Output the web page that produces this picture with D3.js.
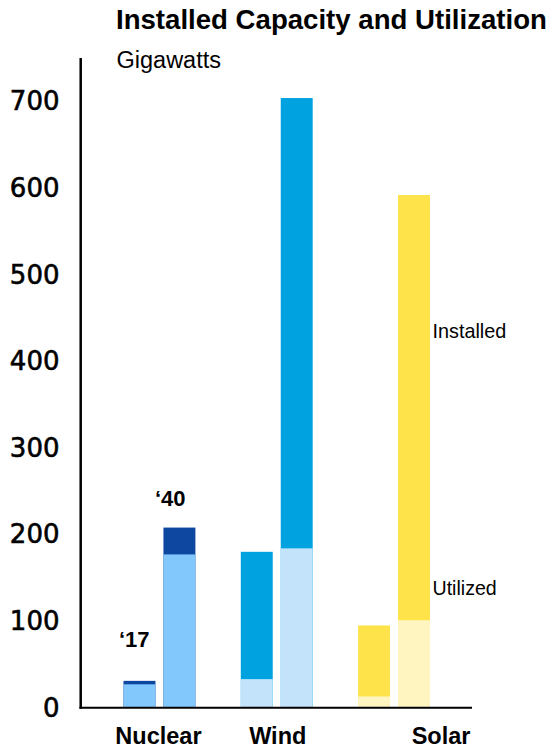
<!DOCTYPE html>
<html><head><meta charset="utf-8">
<script src="https://cdn.jsdelivr.net/npm/d3@7"></script>
<style>body{margin:0;background:#fff}svg{display:block}</style>
</head><body>
<svg id="c" width="557" height="747"></svg>
<script>
const categories = ["Nuclear", "Wind", "Solar"];
const years = ["'17", "'40"];
const yearLabels = ["\u201817", "\u201840"];
const utilized = {Nuclear: [27, 177], Wind: [33, 184], Solar: [13, 101]};
const installed = {Nuclear: [31, 208], Wind: [180, 704], Solar: [95, 592]};
const yTicks = [0, 100, 200, 300, 400, 500, 600, 700];
const colorsInstalled = {Nuclear: "#0e47a0", Wind: "#00a3e0", Solar: "#ffe34a"};
const colorsUtilized = {Nuclear: "#82c8fd", Wind: "#c2e3fa", Solar: "#fff5c0"};

const ARIAL = "Liberation Sans, Arial, sans-serif";
const svg = d3.select("#c");
const y = d3.scaleLinear().domain([0, 700]).range([707.7, 101.5]);
const x0 = d3.scaleBand().domain(categories).range([123.5, 430]).paddingInner(0.387).paddingOuter(0);
const x1 = d3.scaleBand().domain(years).range([0, x0.bandwidth()]).paddingInner(0.2);

// title
svg.append("text").attr("x", 116).attr("y", 29).text("Installed Capacity and Utilization")
  .attr("font-family", ARIAL).attr("font-weight", "bold").attr("font-size", 27.6).attr("fill", "#000");
svg.append("text").attr("x", 116.5).attr("y", 68).text("Gigawatts")
  .attr("font-family", ARIAL).attr("font-size", 23.5).attr("fill", "#000");

// bars
categories.forEach(c => {
  years.forEach((yr, i) => {
    const bx = x0(c) + x1(yr);
    svg.append("rect").attr("x", bx).attr("width", x1.bandwidth())
      .attr("y", y(installed[c][i])).attr("height", y(0) - y(installed[c][i])).attr("fill", colorsInstalled[c]);
    svg.append("rect").attr("x", bx).attr("width", x1.bandwidth())
      .attr("y", y(utilized[c][i])).attr("height", y(0) - y(utilized[c][i])).attr("fill", colorsUtilized[c]);
  });
});

// y axis
const yAxis = d3.axisLeft(y).tickValues(yTicks).tickSize(0).tickPadding(21);
const gy = svg.append("g").attr("transform", "translate(80.5,0)").call(yAxis);
gy.select(".domain").remove();
gy.selectAll("text").attr("font-family", "DejaVu Sans, Verdana, sans-serif").attr("font-weight", "normal")
  .attr("font-size", 26).attr("fill", "#000").attr("stroke", "#000").attr("stroke-width", 0.6);
svg.append("line").attr("x1", 80.7).attr("x2", 80.7).attr("y1", 58).attr("y2", 708.7).attr("stroke", "#000").attr("stroke-width", 2.5);
svg.append("line").attr("x1", 79.5).attr("x2", 472).attr("y1", 707.7).attr("y2", 707.7).attr("stroke", "#000").attr("stroke-width", 2);

// category labels
const labelOffset = {Nuclear: -1, Wind: 1, Solar: 47};
categories.forEach(c => {
  svg.append("text").attr("x", x0(c) + x0.bandwidth() / 2 + labelOffset[c]).attr("y", 743.5)
    .attr("text-anchor", "middle").text(c)
    .attr("font-family", ARIAL).attr("font-weight", "bold").attr("font-size", 23.5).attr("fill", "#000");
});

// year labels above nuclear bars
const yearDx = [-4.5, -8.5];
const yearDy = [-34, -22];
years.forEach((yr, i) => {
  const bx = x0("Nuclear") + x1(yr);
  svg.append("text").attr("x", bx + yearDx[i]).attr("y", y(installed.Nuclear[i]) + yearDy[i])
    .text(yearLabels[i])
    .attr("font-family", ARIAL).attr("font-weight", "bold").attr("font-size", 22).attr("fill", "#000");
});

// series labels
svg.append("text").attr("x", 432.5).attr("y", 337.5).text("Installed")
  .attr("font-family", ARIAL).attr("font-size", 19.8).attr("fill", "#000");
svg.append("text").attr("x", 432.5).attr("y", 595).text("Utilized")
  .attr("font-family", ARIAL).attr("font-size", 19.6).attr("fill", "#000");
</script>
</body></html>
